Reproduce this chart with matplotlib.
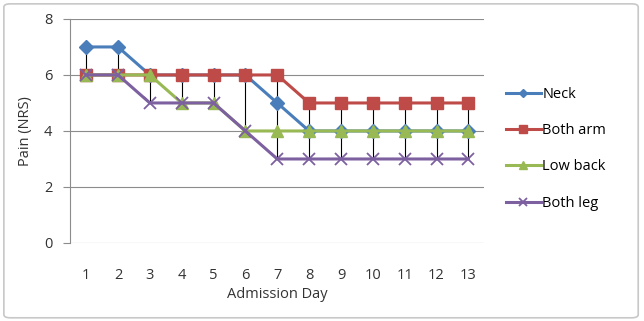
import numpy as np
import matplotlib.pyplot as plt
from matplotlib.patches import FancyBboxPatch

days = np.arange(1, 14)
neck = [7, 7, 6, 6, 6, 6, 5, 4, 4, 4, 4, 4, 4]
both_arm = [6, 6, 6, 6, 6, 6, 6, 5, 5, 5, 5, 5, 5]
low_back = [6, 6, 6, 5, 5, 4, 4, 4, 4, 4, 4, 4, 4]
both_leg = [6, 6, 5, 5, 5, 4, 3, 3, 3, 3, 3, 3, 3]
labels = ['Neck', 'Both arm', 'Low back', 'Both leg']

plt.rcParams['font.family'] = ['Open Sans', 'DejaVu Sans']

fig = plt.figure(figsize=(6.44, 3.21), dpi=100)
ax = fig.add_axes([0.109, 0.243, 0.643, 0.698])

# outer chart frame
frame = FancyBboxPatch((0.006, 0.01), 0.985, 0.978, boxstyle='round,pad=0,rounding_size=0.01',
                       transform=fig.transFigure, fill=False, edgecolor='#c8c8c8', linewidth=1.2)
fig.patches.append(frame)

series = [neck, both_arm, low_back, both_leg]

# high-low lines
allv = np.array(series)
ax.vlines(days, allv.min(axis=0), allv.max(axis=0), color='black', linewidth=0.8, zorder=2)

ax.plot(days, neck, color='#4a7ebb', linewidth=2.2, marker='D', markersize=7, zorder=3, label=labels[0])
ax.plot(days, both_arm, color='#be4b48', linewidth=2.2, marker='s', markersize=9, zorder=3, label=labels[1])
ax.plot(days, low_back, color='#98b954', linewidth=2.2, marker='^', markersize=8, zorder=3, label=labels[2])
ax.plot(days, both_leg, color='#7d60a0', linewidth=2.2, marker='x', markersize=8, markeredgewidth=1.3,
        zorder=3, label=labels[3])

ax.set_xlim(0.5, 13.5)
ax.set_ylim(0, 8)
ax.set_yticks([0, 2, 4, 6, 8])
ax.set_xticks(days)
ax.yaxis.grid(True, color='#8c8c8c', linewidth=0.8)
ax.set_axisbelow(True)
for s in ['top', 'right', 'bottom']:
    ax.spines[s].set_visible(False)
ax.spines['left'].set_color('#8c8c8c')
ax.tick_params(axis='y', length=5, color='#8c8c8c', labelsize=10.5, labelcolor='#333333', pad=8)
ax.tick_params(axis='x', length=0, labelsize=10.5, labelcolor='#333333', pad=18)

ax.set_xlabel('Admission Day', fontsize=10.5, color='#333333', labelpad=3)
ax.set_ylabel('Pain (NRS)', fontsize=10.5, color='#333333', labelpad=8)

ax.legend(loc='center left', bbox_to_anchor=(1.02, 0.42), frameon=False, fontsize=10.5,
          handlelength=2.4, handletextpad=0.1, labelspacing=1.45, markerscale=0.65)

fig.savefig('out.png', dpi=100)
